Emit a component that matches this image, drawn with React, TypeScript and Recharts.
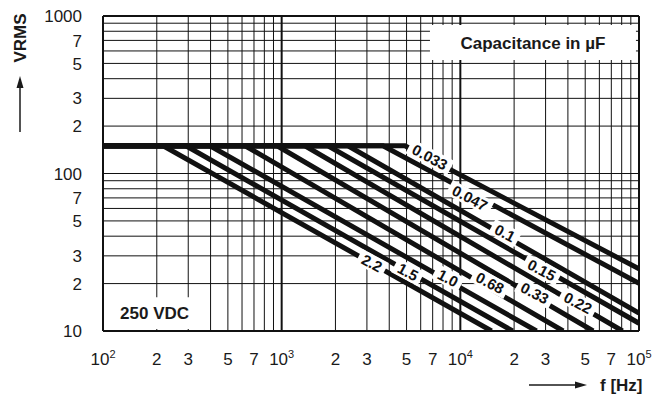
import React from "react";
import { CartesianGrid, Line, LineChart, ReferenceArea, ReferenceDot, XAxis, YAxis } from "recharts";

const FONT = "'Liberation Sans', Arial, Helvetica, sans-serif";

// grid / tick positions
const X_TICKS = [
  100, 200, 300, 400, 500, 600, 700, 800, 900,
  1000, 2000, 3000, 4000, 5000, 6000, 7000, 8000, 9000,
  10000, 20000, 30000, 40000, 50000, 60000, 70000, 80000, 90000,
  100000,
];
const X_LABEL_VALUES = [100, 200, 300, 500, 700, 1000, 2000, 3000, 5000, 7000, 10000, 20000, 30000, 50000, 70000, 100000];
const X_LABEL_TEXT = ["10^2", "2", "3", "5", "7", "10^3", "2", "3", "5", "7", "10^4", "2", "3", "5", "7", "10^5"];
const X_MAJOR = [100, 1000, 10000, 100000];

const Y_TICKS = [10, 20, 30, 40, 50, 60, 70, 80, 90, 100, 200, 300, 400, 500, 600, 700, 800, 900, 1000];
const Y_LABEL_VALUES = [10, 20, 30, 50, 70, 100, 200, 300, 500, 700, 1000];
const Y_LABEL_TEXT = ["10", "2", "3", "5", "7", "100", "2", "3", "5", "7", "1000"];
const Y_MAJOR = [10, 1000];

// capacitance curves: flat at FLAT_V up to the break, then falling to the end point
const FLAT_V = 150;
const CAPS = ["2.2", "1.5", "1.0", "0.68", "0.33", "0.22", "0.15", "0.1", "0.047", "0.033"];
const BREAK_F = [217, 291, 397, 624, 942, 1349, 1815, 2349, 3690, 4898];
const END_F = [14960, 19630, 26700, 37650, 55400, 80900, 100000, 100000, 100000, 100000];
const END_V = [10, 10, 10, 10, 10, 10, 11.2, 13, 20.1, 24.8];
const LABEL_F = [3200, 5090, 8530, 14660, 26100, 45500, 28530, 17780, 11320, 6760];
const LABEL_V = [27.0, 23.7, 21.7, 20.2, 17.4, 15.1, 24.4, 41.9, 69.9, 127];

const series = CAPS.map((c, i) => ({
  name: c,
  data: [
    { f: 100, v: FLAT_V },
    { f: BREAK_F[i], v: FLAT_V },
    { f: END_F[i], v: END_V[i] },
  ],
}));

function XTick(props: any) {
  const { x, y, payload } = props;
  const i = X_LABEL_VALUES.indexOf(payload.value);
  if (i < 0) return <g />;
  const [base, exp] = X_LABEL_TEXT[i].split("^");
  return (
    <text x={x} y={y} dy="0.71em" textAnchor="middle" fontSize={17} fontFamily={FONT} fill="#1a1a1a">
      {base}
      {exp && (
        <tspan dy={-7} fontSize={11}>
          {exp}
        </tspan>
      )}
    </text>
  );
}

function YTick(props: any) {
  const { x, y, payload } = props;
  const i = Y_LABEL_VALUES.indexOf(payload.value);
  if (i < 0) return <g />;
  return (
    <text x={x} y={y} dy="0.36em" textAnchor="end" fontSize={17} fontFamily={FONT} fill="#1a1a1a">
      {Y_LABEL_TEXT[i]}
    </text>
  );
}

const vLine = (p: any) => {
  const major = X_MAJOR.includes(X_TICKS[p.index]);
  return <line key={p.key} x1={p.x1} y1={p.y1} x2={p.x2} y2={p.y2} stroke="#111" strokeWidth={major ? 2 : 1} />;
};
const hLine = (p: any) => {
  const major = Y_MAJOR.includes(Y_TICKS[p.index]);
  return <line key={p.key} x1={p.x1} y1={p.y1} x2={p.x2} y2={p.y2} stroke="#111" strokeWidth={major ? 2 : 1} />;
};

function CapLabel(text: string) {
  return (props: any) => {
    const { cx, cy } = props;
    const w = text.length * 8.6 + 4;
    return (
      <g transform={`translate(${cx},${cy}) rotate(28)`}>
        <rect x={-w / 2} y={-8} width={w} height={16} fill="#fff" />
        <text x={0} y={0} dy="0.36em" textAnchor="middle" fontSize={15} fontWeight="bold" fontFamily={FONT} fill="#111">
          {text}
        </text>
      </g>
    );
  };
}

const boxLabel = (text: string) => (props: any) => {
  const { viewBox } = props;
  return (
    <text
      x={viewBox.x + viewBox.width / 2}
      y={viewBox.y + viewBox.height / 2}
      dy="0.36em"
      textAnchor="middle"
      fontSize={17}
      fontWeight="bold"
      fontFamily={FONT}
      fill="#1a1a1a"
    >
      {text}
    </text>
  );
};

export default function App() {
  return (
    <div style={{ position: "absolute", left: 0, top: 0, width: 652, height: 401, background: "#fff" }}>
      <LineChart width={652} height={401} margin={{ top: 16, right: 13, bottom: 0, left: 0 }}>
        <CartesianGrid
          verticalValues={X_TICKS}
          horizontalValues={Y_TICKS}
          vertical={vLine}
          horizontal={hLine}
        />
        <XAxis
          dataKey="f"
          type="number"
          scale="log"
          domain={[100, 100000]}
          ticks={X_TICKS}
          interval={0}
          allowDataOverflow
          axisLine={false}
          tickLine={false}
          tickSize={0}
          tickMargin={22}
          height={70}
          tick={<XTick />}
        />
        <YAxis
          type="number"
          scale="log"
          domain={[10, 1000]}
          ticks={Y_TICKS}
          interval={0}
          allowDataOverflow
          axisLine={false}
          tickLine={false}
          tickSize={0}
          tickMargin={21}
          width={103}
          tick={<YTick />}
        />
        <ReferenceArea x1={6761} x2={96150} y1={526} y2={877} fill="#fff" fillOpacity={1} stroke="none" label={boxLabel("Capacitance in µF")} />
        <ReferenceArea x1={101.5} x2={372} y1={10.3} y2={16.4} fill="#fff" fillOpacity={1} stroke="none" label={boxLabel("250 VDC")} />
        {series.map((s) => (
          <Line
            key={s.name}
            data={s.data}
            dataKey="v"
            stroke="#111"
            strokeWidth={5}
            dot={false}
            isAnimationActive={false}
          />
        ))}
        {CAPS.map((c, i) => (
          <ReferenceDot key={c} x={LABEL_F[i]} y={LABEL_V[i]} r={1} shape={CapLabel(c)} />
        ))}
      </LineChart>
      <svg width={652} height={401} style={{ position: "absolute", left: 0, top: 0, pointerEvents: "none" }}>
        <text
          transform="translate(20,38) rotate(-90)"
          dy="0.36em"
          textAnchor="middle"
          fontSize={17}
          fontWeight="bold"
          fontFamily={FONT}
          fill="#1a1a1a"
        >
          VRMS
        </text>
        <line x1={20} y1={132} x2={20} y2={86} stroke="#1a1a1a" strokeWidth={1.5} />
        <polygon points="20,76 16.5,88 23.5,88" fill="#1a1a1a" />
        <line x1={529} y1={385} x2={577} y2={385} stroke="#1a1a1a" strokeWidth={1.5} />
        <polygon points="587,385 575,381.5 575,388.5" fill="#1a1a1a" />
        <text x={600} y={385} dy="0.36em" fontSize={17} fontWeight="bold" fontFamily={FONT} fill="#1a1a1a">
          f [Hz]
        </text>
      </svg>
    </div>
  );
}
